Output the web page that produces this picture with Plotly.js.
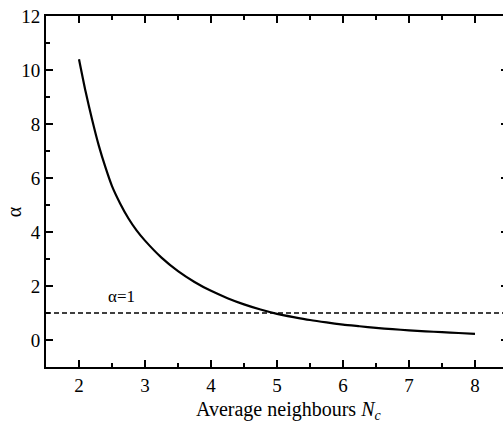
<!DOCTYPE html>
<html><head><meta charset="utf-8">
<script src="https://cdn.plot.ly/plotly-3.0.1.min.js"></script>
<style>html,body{margin:0;padding:0;overflow:hidden;background:#fff}#c{width:510px;height:424px}</style>
</head><body><div id="c"></div>
<script>
var nc =    [2, 2.1, 2.2, 2.3, 2.4, 2.5, 2.625, 2.75, 2.875, 3, 3.25, 3.5, 3.75, 4, 4.25, 4.5, 4.75, 5, 5.25, 5.5, 5.75, 6, 6.25, 6.5, 6.75, 7, 7.25, 7.5, 7.75, 8];
var alpha = [10.4, 9.2, 8.15, 7.2, 6.4, 5.7, 5.05, 4.5, 4.05, 3.68, 3.05, 2.55, 2.15, 1.82, 1.55, 1.32, 1.13, 0.97, 0.85, 0.74, 0.65, 0.57, 0.51, 0.45, 0.40, 0.36, 0.32, 0.29, 0.26, 0.23];
var refX = [1.5, 8.5];
var refY = [1, 1];
var refLabel = "α=1";
var xTitle = 'Average neighbours <i>N</i><sub><i>c</i></sub>';
var yTitle = 'α';

var font = "Liberation Serif, Times New Roman, serif";
var traces = [
  {x: refX, y: refY, mode: 'lines', line: {color: '#000', width: 1.4, dash: '5px,3px'}, hoverinfo: 'skip'},
  {x: nc, y: alpha, mode: 'lines', line: {color: '#000', width: 2.2, shape: 'spline', smoothing: 0.6}}
];
var axisCommon = {
  showgrid: false, zeroline: false, showline: true, linecolor: '#000', linewidth: 2,
  ticks: 'inside', ticklen: 7, tickwidth: 2, tickcolor: '#000', mirror: 'allticks',
  tickfont: {family: font, size: 19, color: '#000'}
};
var layout = {
  width: 510, height: 424,
  margin: {l: 46, r: 2, t: 16, b: 57},
  paper_bgcolor: '#fff', plot_bgcolor: '#fff',
  showlegend: false,
  xaxis: Object.assign({}, axisCommon, {
    range: [1.5, 8.5], dtick: 1, tick0: 0,
    minor: {dtick: 0.5, ticks: 'inside', ticklen: 4, tickwidth: 1.5, tickcolor: '#000'}
  }),
  yaxis: Object.assign({}, axisCommon, {
    range: [-1, 12], dtick: 2, tick0: 0,
    minor: {dtick: 1, ticks: 'inside', ticklen: 4, tickwidth: 1.5, tickcolor: '#000'}
  }),
  annotations: [
    {x: 2.65, y: 1.6, xref: 'x', yref: 'y', text: refLabel, showarrow: false,
     font: {family: font, size: 17, color: '#000'}},
    {x: 5.17, y: -0.125, xref: 'x', yref: 'paper', text: xTitle, showarrow: false,
     xanchor: 'center', yanchor: 'middle', font: {family: font, size: 20, color: '#000'}},
    {x: -0.069, y: 4.74, xref: 'paper', yref: 'y', text: yTitle, showarrow: false, textangle: -90,
     xanchor: 'center', yanchor: 'middle', font: {family: font, size: 20, color: '#000'}}
  ]
};
Plotly.newPlot('c', traces, layout, {staticPlot: true, displayModeBar: false});
</script></body></html>
